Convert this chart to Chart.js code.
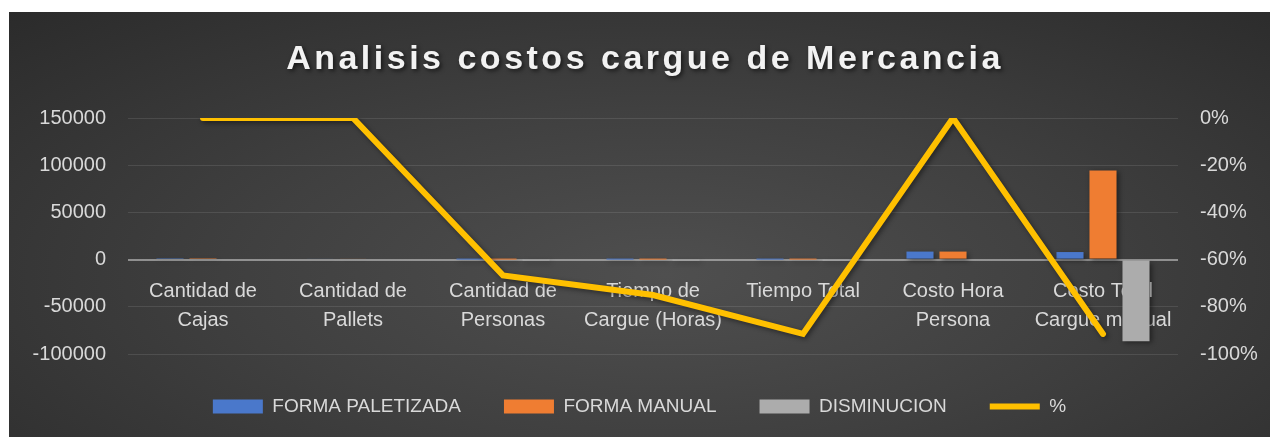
<!DOCTYPE html>
<html>
<head>
<meta charset="utf-8">
<script src="https://cdn.jsdelivr.net/npm/chart.js@4.4.1/dist/chart.umd.min.js"></script>
<style>
  html, body { margin: 0; padding: 0; background: #fff; }
  #box {
    position: absolute; left: 9px; top: 12px; width: 1261px; height: 425px;
    background: radial-gradient(ellipse at 52% 62%, #4f4f4f 0%, #404040 45%, #2b2b2b 100%);
  }
  canvas { display: block; }
</style>
</head>
<body>
<div id="box"><canvas id="costChart" width="1261" height="425"></canvas></div>
<script>
// chart data
const chartTitle = 'Analisis costos cargue de Mercancia';
const categories = [
  ['Cantidad de', 'Cajas'],
  ['Cantidad de', 'Pallets'],
  ['Cantidad de', 'Personas'],
  ['Tiempo de', 'Cargue (Horas)'],
  ['Tiempo Total'],
  ['Costo Hora', 'Persona'],
  ['Costo Total', 'Cargue manual']
];
const formaPaletizada = [1500, 1000, 3, 1, 3, 8500, 8000];
const formaManual = [1500, 1000, 9, 4, 36, 8500, 94500];
const disminucion = [0, 0, -6, -3, -33, 0, -86500];
const porcentaje = [0, 0, -0.667, -0.75, -0.915, 0, -0.915];

const textColor = '#d9d9d9';
const fontFamily = '"Liberation Sans", Arial, sans-serif';

// shadow under bars and line
const shadowPlugin = {
  id: 'shadows',
  beforeDatasetsDraw(chart) {
    const ctx = chart.ctx;
    ctx.save();
    ctx.shadowColor = 'rgba(0,0,0,0.45)';
    ctx.shadowBlur = 5;
    ctx.shadowOffsetX = 2;
    ctx.shadowOffsetY = 2;
  },
  afterDatasetsDraw(chart) {
    chart.ctx.restore();
  }
};

// spaced out title
const titlePlugin = {
  id: 'spacedTitle',
  afterDraw(chart) {
    const ctx = chart.ctx;
    ctx.save();
    ctx.font = 'bold 34px ' + fontFamily;
    ctx.letterSpacing = '3.5px';
    ctx.fillStyle = '#f2f2f2';
    ctx.textAlign = 'center';
    ctx.textBaseline = 'middle';
    ctx.shadowColor = 'rgba(0,0,0,0.6)';
    ctx.shadowBlur = 4;
    ctx.shadowOffsetX = 2;
    ctx.shadowOffsetY = 2;
    ctx.fillText(chartTitle, 636, 48);
    ctx.restore();
  }
};

const ctx = document.getElementById('costChart').getContext('2d');
const costChart = new Chart(ctx, {
  type: 'bar',
  data: {
    labels: categories,
    datasets: [
      {
        label: 'FORMA PALETIZADA',
        data: formaPaletizada,
        backgroundColor: '#4a78cb',
        pointStyle: 'rect',
        order: 1
      },
      {
        label: 'FORMA MANUAL',
        data: formaManual,
        backgroundColor: '#ef7d32',
        pointStyle: 'rect',
        order: 1
      },
      {
        label: 'DISMINUCION',
        data: disminucion,
        backgroundColor: '#acacac',
        pointStyle: 'rect',
        order: 1
      },
      {
        type: 'line',
        label: '%',
        data: porcentaje,
        yAxisID: 'y1',
        borderColor: '#FFC000',
        backgroundColor: '#FFC000',
        borderWidth: 6,
        pointRadius: 0,
        tension: 0,
        borderCapStyle: 'round',
        borderJoinStyle: 'miter',
        pointStyle: 'line',
        order: 0
      }
    ]
  },
  options: {
    responsive: false,
    animation: false,
    categoryPercentage: 0.66,
    barPercentage: 0.82,
    layout: { padding: { top: 106, bottom: 11, left: 0, right: 0 } },
    plugins: {
      title: { display: false },
      tooltip: { enabled: false },
      legend: {
        position: 'bottom',
        labels: {
          color: textColor,
          font: { family: fontFamily, size: 19 },
          usePointStyle: true,
          pointStyleWidth: 50,
          boxHeight: 14,
          padding: 43,
          sort: (a, b) => a.datasetIndex - b.datasetIndex
        }
      }
    },
    scales: {
      x: {
        position: { y: 0 },
        grid: { display: false, drawTicks: false },
        border: { display: false },
        ticks: {
          color: textColor,
          font: { family: fontFamily, size: 20, lineHeight: 1.45 },
          padding: 17,
          maxRotation: 0,
          autoSkip: false
        },
        afterFit(scale) { scale.height = 0; }
      },
      y: {
        position: 'left',
        min: -100000,
        max: 150000,
        ticks: {
          stepSize: 50000,
          color: textColor,
          font: { family: fontFamily, size: 20 },
          padding: 22,
          callback: v => String(v)
        },
        grid: {
          drawTicks: false,
          color: c => c.tick && c.tick.value === 0 ? 'rgba(200,200,200,0.6)' : 'rgba(255,255,255,0.1)',
          lineWidth: c => c.tick && c.tick.value === 0 ? 2 : 1
        },
        border: { display: false },
        afterFit(scale) { scale.width = 119; }
      },
      y1: {
        position: 'right',
        min: -1,
        max: 0,
        ticks: {
          stepSize: 0.2,
          color: textColor,
          font: { family: fontFamily, size: 20 },
          padding: 22,
          callback: v => Math.round(v * 100) + '%'
        },
        grid: { drawOnChartArea: false, drawTicks: false },
        border: { display: false },
        afterFit(scale) { scale.width = 92; }
      }
    }
  },
  plugins: [shadowPlugin, titlePlugin]
});
</script>
</body>
</html>
